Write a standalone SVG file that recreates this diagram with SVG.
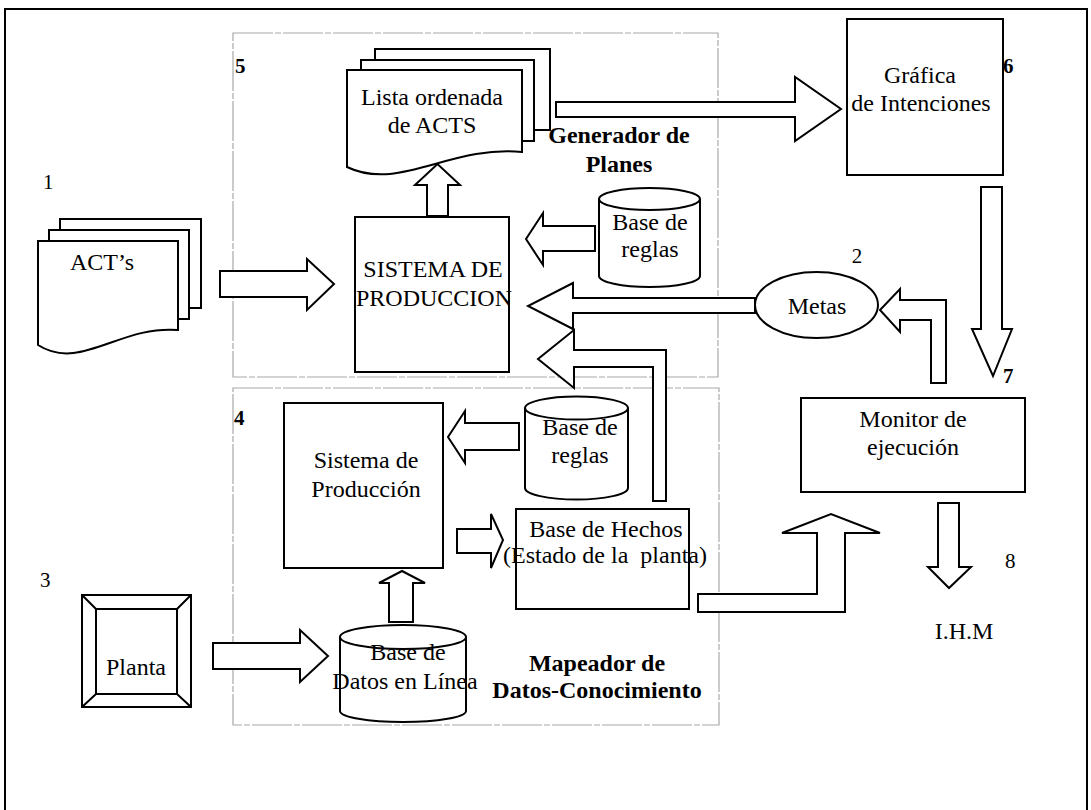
<svg xmlns="http://www.w3.org/2000/svg" width="1091" height="810" viewBox="0 0 1091 810">
  <style>
    .shape { fill: #fff; stroke: #000; stroke-width: 2; stroke-linejoin: miter; }
    .line { fill: none; stroke: #000; stroke-width: 2; }
    .zone { fill: none; stroke: #a8a8a8; stroke-width: 1.2; stroke-dasharray: 40 2 6 2; }
    .arrow { fill: #fff; stroke: #000; stroke-width: 2; stroke-linejoin: miter; }
    text { font-family: "Liberation Serif", "Times New Roman", serif; font-size: 24px; fill: #000; }
    .c { text-anchor: middle; }
    .num { font-size: 21px; }
    .b { font-weight: bold; }
    .pre { white-space: pre; }
  </style>

  <rect x="0" y="0" width="1091" height="810" fill="#fff"/>

  <!-- outer frame -->
  <path class="line" d="M5,812 V9 H1087 V812"/>

  <!-- subsystem zones -->
  <g id="zone-generador">
    <rect class="zone" x="233" y="33" width="485" height="344"/>
    <text class="c b" x="619" y="143">Generador de</text>
    <text class="c b" x="619" y="172">Planes</text>
    <text class="num b" x="235" y="73">5</text>
  </g>
  <g id="zone-mapeador">
    <rect class="zone" x="233" y="388" width="486" height="337"/>
    <text class="c b" x="597" y="671">Mapeador de</text>
    <text class="c b" x="597" y="698">Datos-Conocimiento</text>
    <text class="num b" x="234" y="425">4</text>
  </g>

  <!-- connectors (block arrows) -->
  <g id="connectors">
    <polygon class="arrow" points="220,271 307,271 307,259 334,284 307,310 307,297 220,297"/>
    <polygon class="arrow" points="427,216 427,185 415,185 437.5,164 460,185 448,185 448,216"/>
    <polygon class="arrow" points="556,102 795,102 795,77 841,109 795,141 795,117 556,117"/>
    <polygon class="arrow" points="595,226 543,226 543,213 526,239 543,265 543,251 595,251"/>
    <polygon class="arrow" points="755,298 573,298 573,283 528,306 573,329 573,313 755,313"/>
    <polygon class="arrow" points="666,501 666,350 574,350 574,330 538,359 574,388 574,367 653,367 653,501"/>
    <polygon class="arrow" points="946,383 946,300 900,300 900,289 880,310 900,332 900,320 931,320 931,383"/>
    <polygon class="arrow" points="981,187 1002,187 1002,329 1012,329 993,376 972,329 981,329"/>
    <polygon class="arrow" points="519,423 465,423 465,411 448,437 465,463 465,450 519,450"/>
    <polygon class="arrow" points="457,529 491,529 491,514 503,540 491,568 491,553 457,553"/>
    <polygon class="arrow" points="389,622 389,583 379,583 402,571 425,583 413,583 413,622"/>
    <polygon class="arrow" points="213,643 300,643 300,630 328,656 300,682 300,669 213,669"/>
    <polygon class="arrow" points="698,594 817,594 817,533 782,533 831,514 880,533 845,533 845,612 698,612"/>
    <polygon class="arrow" points="938,503 959,503 959,567 971,567 949,588 928,567 938,567"/>
  </g>

  <!-- 1: ACT's document stack -->
  <g id="acts">
    <path class="shape" d="M60,308 V219 H201 V308 Z"/>
    <path class="shape" d="M49,319 V230 H189 V319 Z"/>
    <path class="shape" d="M38,345 V241 H178 V330 C120,325 80,372 38,345 Z"/>
    <text class="c" x="102" y="270">ACT’s</text>
    <text class="num" x="43" y="189">1</text>
  </g>

  <!-- ordered list of ACTS (document stack) -->
  <g id="lista">
    <path class="shape" d="M375,130 V49 H550 V130 Z"/>
    <path class="shape" d="M361,141 V60 H534 V141 Z"/>
    <path class="shape" d="M347,167 V70 H522 V152 C450,145 399,192 347,167 Z"/>
    <text class="c" x="432" y="105">Lista ordenada</text>
    <text class="c" x="432" y="133">de ACTS</text>
  </g>

  <!-- production system -->
  <g id="sistema-produccion">
    <rect class="shape" x="355" y="217" width="154" height="155"/>
    <text class="c" x="433" y="277">SISTEMA DE</text>
    <text class="c" x="434" y="306">PRODUCCION</text>
  </g>

  <!-- rule base (plan generator) -->
  <g id="reglas-planes">
    <path class="shape" d="M599,199 V276 A50.5,11 0 0 0 700,276 V199 A50.5,11 0 0 0 599,199 Z"/>
    <path class="line" d="M599,199 A50.5,11 0 0 0 700,199"/>
    <text class="c" x="650" y="230">Base de</text>
    <text class="c" x="650" y="257">reglas</text>
  </g>

  <!-- 6: intention graph -->
  <g id="grafica">
    <rect class="shape" x="847" y="19" width="156" height="156"/>
    <text class="c" x="920" y="83">Gráfica</text>
    <text class="c" x="921" y="111">de Intenciones</text>
    <text class="num b" x="1003" y="73">6</text>
  </g>

  <!-- 2: goals -->
  <g id="metas">
    <ellipse class="shape" cx="816.5" cy="305" rx="61.5" ry="33"/>
    <text class="c" x="817" y="314">Metas</text>
    <text class="num c" x="857" y="263">2</text>
  </g>

  <!-- 7: execution monitor -->
  <g id="monitor">
    <rect class="shape" x="801" y="398" width="224" height="94"/>
    <text class="c" x="913" y="427">Monitor de</text>
    <text class="c" x="913" y="455">ejecución</text>
    <text class="num b" x="1003" y="383">7</text>
  </g>

  <!-- production system (data mapper) -->
  <g id="sistema-mapeador">
    <rect class="shape" x="284" y="403" width="159" height="165"/>
    <text class="c" x="366" y="468">Sistema de</text>
    <text class="c" x="366" y="497">Producción</text>
  </g>

  <!-- rule base (data mapper) -->
  <g id="reglas-mapeador">
    <path class="shape" d="M525,408 V488 A51.5,11.5 0 0 0 628,488 V408 A51.5,11.5 0 0 0 525,408 Z"/>
    <path class="line" d="M525,408 A51.5,11.5 0 0 0 628,408"/>
    <text class="c" x="580" y="435">Base de</text>
    <text class="c" x="580" y="463">reglas</text>
  </g>

  <!-- fact base -->
  <g id="hechos">
    <rect class="shape" x="516" y="509" width="173" height="100"/>
    <text class="c" x="606" y="537">Base de Hechos</text>
    <text class="c pre" x="605" y="563">(Estado de la  planta)</text>
  </g>

  <!-- 3: plant -->
  <g id="planta">
    <rect class="shape" x="82" y="595" width="109" height="112"/>
    <rect class="shape" x="96" y="609" width="81" height="85"/>
    <path class="line" d="M82,595 L96,609 M191,595 L177,609 M82,707 L96,694 M191,707 L177,694"/>
    <text class="c" x="136" y="675">Planta</text>
    <text class="num" x="40" y="587">3</text>
  </g>

  <!-- online database -->
  <g id="datos-linea">
    <path class="shape" d="M340,637 V711 A63,11 0 0 0 466,711 V637 A63,12 0 0 0 340,637 Z"/>
    <path class="line" d="M340,637 A63,12 0 0 0 466,637"/>
    <text class="c" x="408" y="660">Base de</text>
    <text class="c" x="405" y="689">Datos en Línea</text>
  </g>

  <!-- 8: human-machine interface -->
  <g id="ihm">
    <text class="c" x="964" y="639">I.H.M</text>
    <text class="num" x="1005" y="568">8</text>
  </g>
</svg>
